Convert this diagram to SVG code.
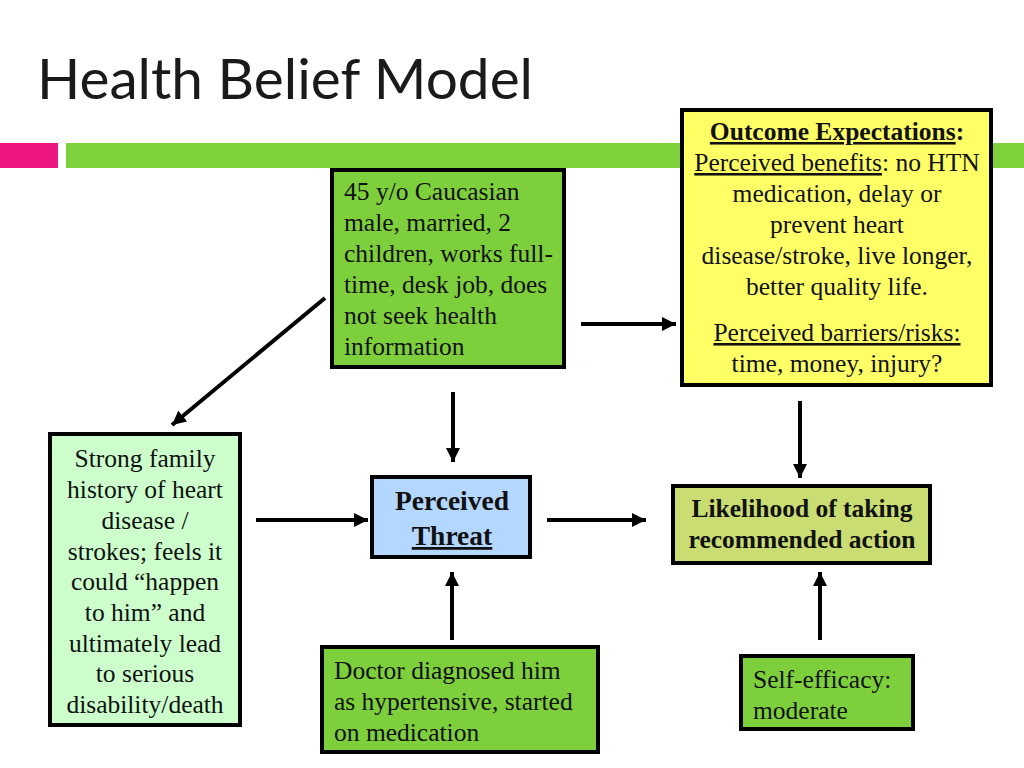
<svg xmlns="http://www.w3.org/2000/svg" width="1024" height="768" viewBox="0 0 1024 768">
<defs>
<marker id="ah" viewBox="0 0 10 10" refX="10" refY="5" markerWidth="14" markerHeight="14" markerUnits="userSpaceOnUse" orient="auto">
<path d="M0,0 L10,5 L0,10 z" fill="#000"/>
</marker>
</defs>
<style>
.box{stroke:#000;stroke-width:4}
.t{font-family:'Liberation Serif','Times New Roman',Times,serif;font-size:25.5px;fill:#111}
.c{text-anchor:middle}
.b{font-weight:bold}
.u{text-decoration:underline}
.big{font-size:27.5px}
.arr{stroke:#000;stroke-width:4;fill:none;marker-end:url(#ah)}
</style>
<rect width="1024" height="768" fill="#fff"/>
<text x="37" y="99" font-family="Lato, 'Open Sans', sans-serif" font-size="56" fill="#1a1a1a" textLength="496" lengthAdjust="spacingAndGlyphs">Health Belief Model</text>
<rect x="0" y="143" width="58" height="25" fill="#ee1680"/>
<rect x="66" y="143" width="958" height="25" fill="#7ed13a"/>

<g id="outcome">
<rect class="box" x="682" y="110" width="309" height="275" fill="#ffff66"/>
<text class="t c b" x="837" y="140"><tspan class="u">Outcome Expectations</tspan>:</text>
<text class="t c" x="837" y="171"><tspan class="u">Perceived benefits</tspan>: no HTN</text>
<text class="t c" x="837" y="202">medication, delay or</text>
<text class="t c" x="837" y="233">prevent heart</text>
<text class="t c" x="837" y="264">disease/stroke, live longer,</text>
<text class="t c" x="837" y="295">better quality life.</text>
<text class="t c u" x="837" y="341">Perceived barriers/risks:</text>
<text class="t c" x="837" y="372">time, money, injury?</text>
</g>

<g id="demographics">
<rect class="box" x="332" y="170" width="232" height="197" fill="#7ecf3c"/>
<text class="t" x="344" y="200">45 y/o Caucasian</text>
<text class="t" x="344" y="231">male, married, 2</text>
<text class="t" x="344" y="262">children, works full-</text>
<text class="t" x="344" y="293">time, desk job, does</text>
<text class="t" x="344" y="324">not seek health</text>
<text class="t" x="344" y="355">information</text>
</g>

<g id="family">
<rect class="box" x="50" y="434" width="190" height="291" fill="#ccffcc"/>
<text class="t c" x="145" y="467">Strong family</text>
<text class="t c" x="145" y="498">history of heart</text>
<text class="t c" x="145" y="529">disease /</text>
<text class="t c" x="145" y="560">strokes; feels it</text>
<text class="t c" x="145" y="590">could “happen</text>
<text class="t c" x="145" y="621">to him” and</text>
<text class="t c" x="145" y="652">ultimately lead</text>
<text class="t c" x="145" y="682">to serious</text>
<text class="t c" x="145" y="713">disability/death</text>
</g>

<g id="threat">
<rect class="box" x="372" y="477" width="158" height="80" fill="#b3d7ff"/>
<text class="t c b big" x="452" y="510">Perceived</text>
<text class="t c b u big" x="452" y="545">Threat</text>
</g>

<g id="likelihood">
<rect class="box" x="673" y="486" width="257" height="77" fill="#cadd72"/>
<text class="t c b" x="802" y="517">Likelihood of taking</text>
<text class="t c b" x="802" y="548">recommended action</text>
</g>

<g id="doctor">
<rect class="box" x="322" y="647" width="276" height="105" fill="#7ecf3c"/>
<text class="t" x="334" y="679">Doctor diagnosed him</text>
<text class="t" x="334" y="710">as hypertensive, started</text>
<text class="t" x="334" y="741">on medication</text>
</g>

<g id="selfefficacy">
<rect class="box" x="741" y="656" width="172" height="73" fill="#7ecf3c"/>
<text class="t" x="753" y="688">Self-efficacy:</text>
<text class="t" x="753" y="719">moderate</text>
</g>

<g id="connectors">
<line class="arr" x1="325" y1="298" x2="172" y2="425"/>
<line class="arr" x1="581" y1="324" x2="676" y2="324"/>
<line class="arr" x1="453" y1="392" x2="453" y2="462"/>
<line class="arr" x1="800" y1="401" x2="800" y2="478"/>
<line class="arr" x1="256" y1="520" x2="368" y2="520"/>
<line class="arr" x1="547" y1="520" x2="646" y2="520"/>
<line class="arr" x1="452" y1="640" x2="452" y2="572"/>
<line class="arr" x1="820" y1="640" x2="820" y2="572"/>
</g>
</svg>
